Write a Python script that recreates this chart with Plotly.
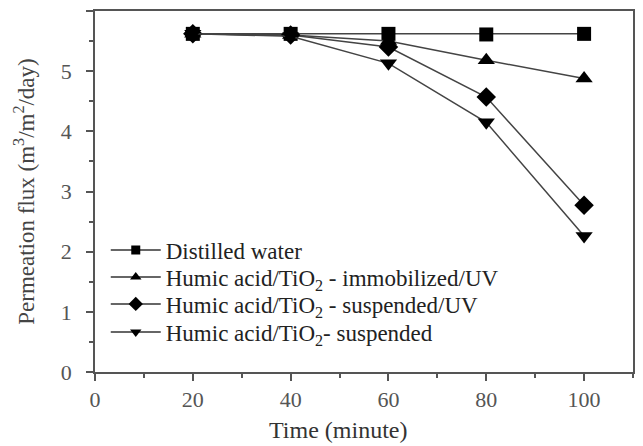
import plotly.graph_objects as go

time = [20, 40, 60, 80, 100]
distilled = [5.62, 5.62, 5.62, 5.61, 5.62]
immobilized_uv = [5.62, 5.60, 5.50, 5.18, 4.88]
suspended_uv = [5.62, 5.60, 5.40, 4.57, 2.77]
suspended = [5.62, 5.58, 5.13, 4.15, 2.26]

names = [
    "Distilled water",
    "Humic acid/TiO<sub>2</sub> - immobilized/UV",
    "Humic acid/TiO<sub>2</sub> - suspended/UV",
    "Humic acid/TiO<sub>2</sub>- suspended",
]
series = [distilled, immobilized_uv, suspended_uv, suspended]
symbols = ["square", "triangle-up", "diamond", "triangle-down"]
sizes = [14, 15, 15, 15]
legend_sizes = [9, 10, 11, 10]

FONT = "Liberation Serif"
fig = go.Figure()
legend_ids = ["legend", "legend2", "legend3", "legend4"]
for n, s, sym, sz in zip(names, series, symbols, sizes):
    fig.add_trace(go.Scatter(
        x=time, y=s, name=n, mode="lines+markers", showlegend=False,
        line=dict(color="#444444", width=1.5),
        marker=dict(symbol=sym, size=sz, color="black"),
    ))
# legend entries (smaller symbols, as in the original figure)
for n, sym, sz, lg in zip(names, symbols, legend_sizes, legend_ids):
    fig.add_trace(go.Scatter(
        x=[None], y=[None], name=n, mode="lines+markers", legend=lg, showlegend=True,
        line=dict(color="#333333", width=1.5),
        marker=dict(symbol=sym, size=sz, color="black"),
    ))

axis_common = dict(
    showline=True, linecolor="#555555", linewidth=1.5, mirror=True,
    ticks="outside", ticklen=7, tickcolor="#555555", tickwidth=1.5,
    showgrid=False, zeroline=False,
    tickfont=dict(family=FONT, size=22, color="#555555"),
)
fig.update_xaxes(range=[0, 110], dtick=20, tick0=0,
                 minor=dict(dtick=10, ticks="outside", ticklen=4, tickcolor="#555555"),
                 **axis_common)
fig.update_yaxes(range=[0, 6], dtick=1, tick0=0, ticklabelstandoff=10,
                 minor=dict(dtick=0.5, ticks="outside", ticklen=4, tickcolor="#555555"),
                 title=dict(text="Permeation flux (m<sup>3</sup>/m<sup>2</sup>/day)", font=dict(family=FONT, size=23, color="#444444"), standoff=20),
                 **axis_common)

# plot area in pixels: top 11, bottom 372
row_centers_px = [250, 277, 304, 332]
legend_layout = {}
for lg, yc in zip(legend_ids, row_centers_px):
    legend_layout[lg] = dict(
        x=0.02, y=(372 - yc) / 361, xanchor="left", yanchor="middle",
        font=dict(family=FONT, size=23, color="#222222"),
        bgcolor="rgba(0,0,0,0)", itemwidth=50,
    )

fig.update_layout(
    width=643, height=446, showlegend=True,
    margin=dict(l=95, r=8, t=11, b=74),
    paper_bgcolor="white", plot_bgcolor="white",
    annotations=[dict(text="Time (minute)", xref="paper", yref="paper",
                      x=0.452, y=0, yshift=-58, xanchor="center", yanchor="middle",
                      showarrow=False, font=dict(family=FONT, size=24, color="#333333"))],
    **legend_layout,
)
fig.write_html("out.html")
